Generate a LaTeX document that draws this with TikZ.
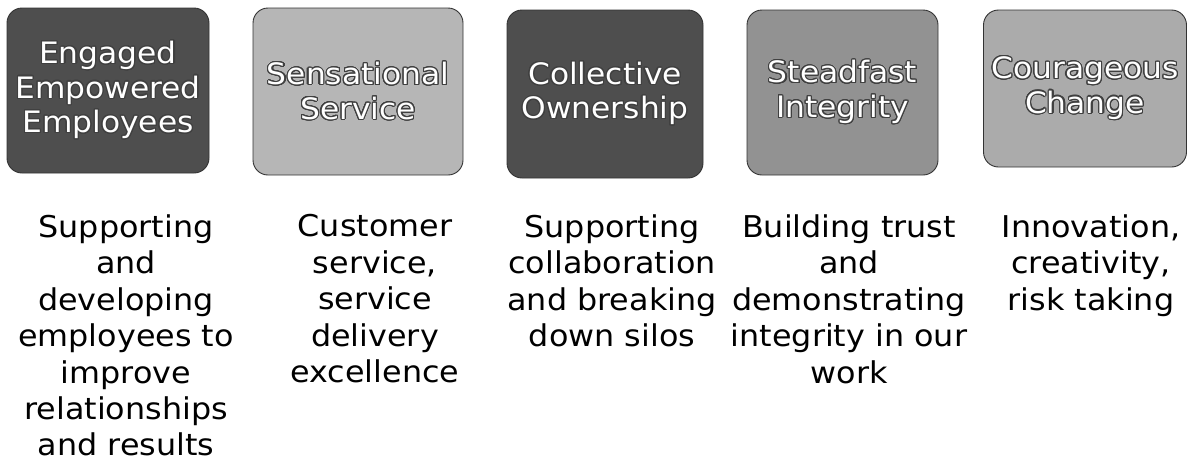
\documentclass[tikz,border=0pt]{standalone}
\usepackage{fontspec}
\setmainfont{DejaVu Sans}[FakeStretch=1.06]
\usepackage{contour}
\contourlength{1.1pt}
\contournumber{24}
\definecolor{dk}{HTML}{4E4E4E}
\definecolor{lt}{HTML}{B6B6B6}
\definecolor{md}{HTML}{929292}
\definecolor{lm}{HTML}{ABABAB}
\newcommand{\wt}[1]{\contour{black!75}{\textcolor{white}{#1}}}
\begin{document}
\begin{tikzpicture}[x=1pt,y=-1pt,
  valbox/.style={draw=black!80, line width=0.9pt, rounded corners=15pt, inner sep=0pt,
    align=center, font=\fontsize{29.5}{34.5}\selectfont},
  desc/.style={anchor=north, inner sep=0pt, align=center, font=\fontsize{30}{36.4}\selectfont}]
\useasboundingbox (0,0) rectangle (1189,461);
\node[valbox, fill=dk, minimum width=202pt, minimum height=165pt] (b1) at (108,90.5)
  {\wt{Engaged}\\\wt{Empowered}\\\wt{Employees}};
\node[valbox, fill=lt, minimum width=210pt, minimum height=167pt] (b2) at (358,91.5)
  {\wt{Sensational}\\\wt{Service}};
\node[valbox, fill=dk, minimum width=196pt, minimum height=168pt] (b3) at (605,94)
  {\wt{Collective}\\\wt{Ownership}};
\node[valbox, fill=md, minimum width=191pt, minimum height=165pt] (b4) at (842.5,92.5)
  {\wt{Steadfast}\\\wt{Integrity}};
\node[valbox, fill=lm, minimum width=203pt, minimum height=157pt] (b5) at (1085,88.5)
  {\wt{Courageous}\\\wt{Change}};
\node[desc] (t1) at (126,214.5) {Supporting\\and\\developing\\employees to\\improve\\relationships\\and results};
\node[desc] (t2) at (375,214.5) {Customer\\service,\\service\\delivery\\excellence};
\node[desc] (t3) at (612,214.5) {Supporting\\collaboration\\and breaking\\down silos};
\node[desc] (t4) at (849,214.5) {Building trust\\and\\demonstrating\\integrity in our\\work};
\node[desc] (t5) at (1091,214.5) {Innovation,\\creativity,\\risk taking};
\end{tikzpicture}
\end{document}
